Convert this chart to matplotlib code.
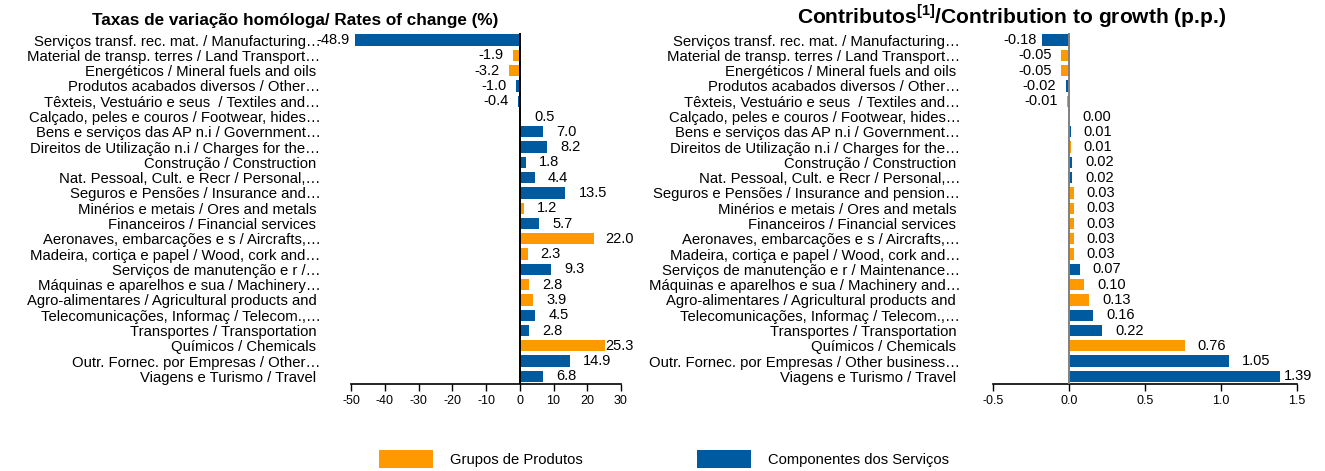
import matplotlib
matplotlib.use("Agg")
import matplotlib.pyplot as plt
from matplotlib.patches import Patch

plt.rcParams['font.family'] = ['Liberation Sans', 'DejaVu Sans']
plt.rcParams['mathtext.fontset'] = 'custom'
plt.rcParams['mathtext.rm'] = 'Liberation Sans'
plt.rcParams['mathtext.bf'] = 'Liberation Sans:bold'

ORANGE = "#FF9900"
BLUE = "#005AA0"

labels_left = [
    "Serviços transf. rec. mat. / Manufacturing…",
    "Material de transp. terres / Land Transport…",
    "Energéticos / Mineral fuels and oils ",
    "Produtos acabados diversos / Other…",
    "Têxteis, Vestuário e seus  / Textiles and…",
    "Calçado, peles e couros / Footwear, hides…",
    "Bens e serviços das AP n.i / Government…",
    "Direitos de Utilização n.i / Charges for the…",
    "Construção / Construction ",
    "Nat. Pessoal, Cult. e Recr / Personal,…",
    "Seguros e Pensões / Insurance and…",
    "Minérios e metais / Ores and metals ",
    "Financeiros / Financial services ",
    "Aeronaves, embarcações e s / Aircrafts,…",
    "Madeira, cortiça e papel / Wood, cork and…",
    "Serviços de manutenção e r /…",
    "Máquinas e aparelhos e sua / Machinery…",
    "Agro-alimentares / Agricultural products and ",
    "Telecomunicações, Informaç / Telecom.,…",
    "Transportes / Transportation ",
    "Químicos / Chemicals ",
    "Outr. Fornec. por Empresas / Other…",
    "Viagens e Turismo / Travel ",
]
values_left = [-48.9, -1.9, -3.2, -1.0, -0.4, 0.5, 7.0, 8.2, 1.8, 4.4, 13.5, 1.2,
               5.7, 22.0, 2.3, 9.3, 2.8, 3.9, 4.5, 2.8, 25.3, 14.9, 6.8]
groups_left = ["S", "P", "P", "S", "S", "P", "S", "S", "S", "S", "S", "P",
               "S", "P", "P", "S", "P", "P", "S", "S", "P", "S", "S"]

labels_right = [
    "Serviços transf. rec. mat. / Manufacturing…",
    "Material de transp. terres / Land Transport…",
    "Energéticos / Mineral fuels and oils ",
    "Produtos acabados diversos / Other…",
    "Têxteis, Vestuário e seus  / Textiles and…",
    "Calçado, peles e couros / Footwear, hides…",
    "Bens e serviços das AP n.i / Government…",
    "Direitos de Utilização n.i / Charges for the…",
    "Construção / Construction ",
    "Nat. Pessoal, Cult. e Recr / Personal,…",
    "Seguros e Pensões / Insurance and pension…",
    "Minérios e metais / Ores and metals ",
    "Financeiros / Financial services ",
    "Aeronaves, embarcações e s / Aircrafts,…",
    "Madeira, cortiça e papel / Wood, cork and…",
    "Serviços de manutenção e r / Maintenance…",
    "Máquinas e aparelhos e sua / Machinery and…",
    "Agro-alimentares / Agricultural products and ",
    "Telecomunicações, Informaç / Telecom.,…",
    "Transportes / Transportation ",
    "Químicos / Chemicals ",
    "Outr. Fornec. por Empresas / Other business…",
    "Viagens e Turismo / Travel ",
]
values_right = [-0.18, -0.05, -0.05, -0.02, -0.01, 0.00, 0.01, 0.01, 0.02, 0.02,
                0.03, 0.03, 0.03, 0.03, 0.03, 0.07, 0.10, 0.13, 0.16, 0.22,
                0.76, 1.05, 1.39]
groups_right = ["S", "P", "P", "S", "P", "P", "S", "P", "S", "S", "P", "P",
                "P", "P", "P", "S", "P", "P", "S", "S", "P", "S", "S"]

legend_labels = ["Grupos de Produtos", "Componentes dos Serviços"]

W, H = 1325, 471
fig = plt.figure(figsize=(W / 100, H / 100), dpi=100)

ax_bottom = 87 / H
ax_height = (384 - 32.5) / H
axL = fig.add_axes([351 / W, ax_bottom, 270 / W, ax_height])
axR = fig.add_axes([993 / W, ax_bottom, 304 / W, ax_height])

color_map = {"P": ORANGE, "S": BLUE}


def draw(ax, labels, values, groups, xlim, ticks, ticklabels, fmt, right_limit_px,
         zero_color, label_pad):
    n = len(values)
    y = list(range(n))
    cols = [color_map[g] for g in groups]
    ax.barh(y, values, height=0.74, color=cols, zorder=2)
    ax.set_ylim(n - 0.5, -0.5)
    ax.set_xlim(*xlim)
    ax.set_yticks(y)
    ax.set_yticklabels(labels, fontsize=10.7)
    ax.tick_params(axis='y', length=0, pad=label_pad)
    ax.set_xticks(ticks)
    ax.set_xticklabels(ticklabels, fontsize=9)
    ax.tick_params(axis='x', length=5, width=1, direction='out', pad=3)
    for s in ["top", "right", "left"]:
        ax.spines[s].set_visible(False)
    ax.spines["bottom"].set_linewidth(1.2)
    ax.axvline(0, color=zero_color, lw=1.4, zorder=3)
    fig.canvas.draw()
    renderer = fig.canvas.get_renderer()
    for yi, v in zip(y, values):
        txt = fmt.format(v)
        if v >= 0:
            t = ax.annotate(txt, (v, yi), xytext=(9.5, 0), textcoords='offset points',
                            ha='left', va='center', fontsize=10.5)
            fig.canvas.draw()
            bb = t.get_window_extent(renderer)
            if bb.x1 > right_limit_px:
                shift = (bb.x1 - right_limit_px) * 72 / 100
                t.set_position((9.5 - shift, 0))
        else:
            off = -3.5 if v == min(values) else -7
            ax.annotate(txt, (v, yi), xytext=(off, 0), textcoords='offset points',
                        ha='right', va='center', fontsize=10.5)


draw(axL, labels_left, values_left, groups_left, (-50, 30),
     [-50, -40, -30, -20, -10, 0, 10, 20, 30],
     ["-50", "-40", "-30", "-20", "-10", "0", "10", "20", "30"],
     "{:.1f}", 634, "black", 22)
draw(axR, labels_right, values_right, groups_right, (-0.5, 1.5),
     [-0.5, 0.0, 0.5, 1.0, 1.5],
     ["-0.5", "0.0", "0.5", "1.0", "1.5"],
     "{:.2f}", 1312, "#808080", 23.5)

fig.text(295 / W, 1 - 20 / H, "Taxas de variação homóloga/ Rates of change (%)",
         ha='center', va='center', fontsize=12.3, fontweight='bold')
fig.text(1012 / W, 1 - 16 / H,
         r"Contributos$^{\mathbf{[1]}}$/Contribution to growth (p.p.)",
         ha='center', va='center', fontsize=15.1, fontweight='bold')

handles = [Patch(facecolor=ORANGE, edgecolor='none'),
           Patch(facecolor=BLUE, edgecolor='none')]
fig.legend(handles, legend_labels, loc='center', bbox_to_anchor=(664 / W, 1 - 459 / H),
           ncol=2, frameon=False, fontsize=10.6, handlelength=3.67, handleheight=1.5,
           handletextpad=1.16, columnspacing=7.75, borderpad=0)

fig.savefig("out.png", dpi=100)
